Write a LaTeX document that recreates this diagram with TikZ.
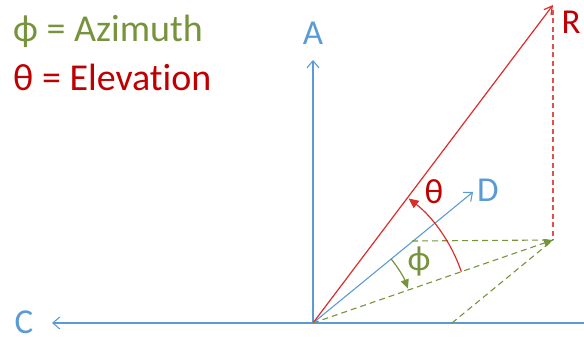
\documentclass[tikz,border=0pt]{standalone}
\usepackage{fontspec}
\setmainfont{Carlito}[Ligatures={NoCommon}]
\usetikzlibrary{arrows.meta,calc}
\definecolor{axblue}{RGB}{91,155,213}
\definecolor{elred}{RGB}{192,0,0}
\definecolor{linered}{RGB}{220,45,45}
\definecolor{dashred}{RGB}{225,80,80}
\definecolor{azgreen}{RGB}{119,147,60}
\tikzset{
  axis/.style={draw=axblue, line width=1.1pt, -{Straight Barb[length=7pt,width=12pt]}},
  redline/.style={draw=linered, line width=1.2pt},
  greendash/.style={draw=azgreen, line width=1.1pt, dash pattern=on 6pt off 4pt},
  reddash/.style={draw=dashred, line width=1.1pt, dash pattern=on 5pt off 3.5pt},
  lbl/.style={font=\fontsize{35}{40}\selectfont, inner sep=0pt},
  legend/.style={font=\fontsize{38}{42}\selectfont, inner sep=0pt, anchor=west},
}
\begin{document}
\begin{tikzpicture}[x=1pt,y=1pt]
\useasboundingbox (0,0) rectangle (584,342);
\coordinate (O) at (313,19);
\coordinate (Atip) at (313,282);
\coordinate (Ctip) at (52,19);
\coordinate (Rend) at (584,19);
\coordinate (Rtip) at (553,337);
\coordinate (P) at (553,102);
\coordinate (Dtip) at (473,150);
\coordinate (H) at (412,101);
\coordinate (G) at (452,19);
\coordinate (Rtop) at (553,332);
% legend
\node[legend, text=azgreen] (leg1) at (13,311) {ϕ = Azimuth};
\node[legend, text=elred] (leg2) at (13,265) {θ = Elevation};
% axes
\draw[draw=axblue, line width=1.1pt] (O) -- (Rend);
\draw[axis] (O) -- (Ctip);
\draw[axis] (O) -- (Atip);
\draw[axis] (O) -- (Dtip);
\node[lbl, text=axblue] (A) at (313,308.5) {A};
\node[lbl, text=axblue] (C) at (24,19.5) {C};
\node[lbl, text=axblue] (D) at (488,152) {D};
\node[lbl, text=elred] (R) at (571,320) {R};
% R vector
\draw[redline, -{Straight Barb[length=8pt,width=9pt]}] (O) -- (Rtip);
\draw[reddash] (Rtop) -- (P);
% projections
\draw[greendash, -{Triangle[length=9pt,width=8pt]}] (O) -- (P);
\draw[greendash] (H) -- (P);
\draw[greendash] (G) -- (P);
% angle arcs
\draw[redline, -{Triangle[length=10pt,width=9pt]}] ($(O)+(19.1:157)$) arc[start angle=19.1, end angle=52.5, radius=157];
\draw[draw=azgreen, line width=1.2pt, -{Triangle[length=9pt,width=8pt]}] ($(O)+(39.5:101)$) arc[start angle=39.5, end angle=20, radius=101];
\node[lbl, text=elred] (th) at (434,150.5) {θ};
\node[lbl, text=azgreen] (ph) at (419,80) {ϕ};
\end{tikzpicture}
\end{document}
